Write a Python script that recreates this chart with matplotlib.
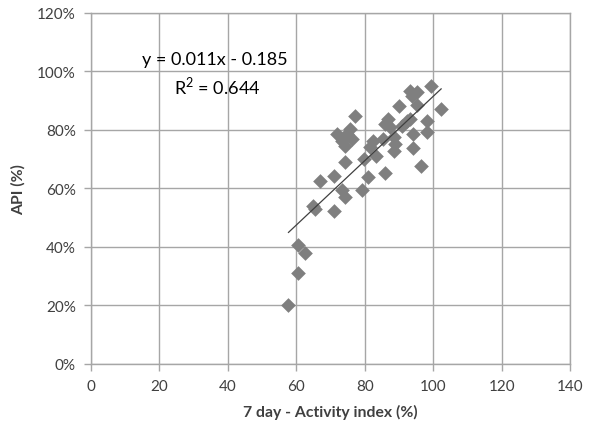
import matplotlib

matplotlib.use("Agg")
import matplotlib.pyplot as plt
from matplotlib.ticker import PercentFormatter

# 7 day activity index (%) vs API (fraction)
activity = [57.7, 60.5, 60.5, 62.5, 64.8, 65.5, 66.9, 71.1, 71.1, 71.8,
            73.3, 74.2, 74.2, 73.3, 74.2, 74.7, 75.7, 76.2, 77.2, 79.1,
            79.9, 81.0, 81.5, 82.5, 83.3, 85.4, 85.9, 85.9, 86.9, 87.5,
            88.4, 88.9, 88.4, 90.1, 90.8, 92.3, 93.2, 93.2, 95.2, 93.7,
            95.2, 94.2, 94.0, 96.5, 98.1, 98.1, 99.4, 102.3]
api = [0.202, 0.311, 0.407, 0.378, 0.541, 0.530, 0.627, 0.524, 0.644, 0.786,
       0.593, 0.570, 0.692, 0.763, 0.746, 0.786, 0.803, 0.769, 0.849, 0.595,
       0.701, 0.638, 0.741, 0.763, 0.712, 0.769, 0.653, 0.821, 0.838, 0.809,
       0.775, 0.752, 0.729, 0.881, 0.815, 0.832, 0.838, 0.934, 0.931, 0.917,
       0.885, 0.786, 0.737, 0.676, 0.832, 0.792, 0.949, 0.872]

slope, intercept, r2 = 0.011, -0.185, 0.644

grey = "#a6a6a6"
plt.rcParams["font.family"] = ["Lato", "DejaVu Sans"]
plt.rcParams["mathtext.fontset"] = "custom"
plt.rcParams["mathtext.rm"] = "Lato"

fig = plt.figure(figsize=(5.89, 4.35), dpi=100)
ax = fig.add_axes([0.1545, 0.161, 0.8135, 0.807])

ax.scatter(activity, api, marker="D", s=56, color="#7f7f7f", linewidths=0, zorder=3)

xs = [min(activity), max(activity)]
ax.plot(xs, [slope * x + intercept for x in xs], color="#404040", lw=0.9, zorder=4)

# equation label, as the spreadsheet trendline shows it
ax.text(36.2, 1.043, f"y = {slope}x - {abs(intercept)}", ha="center", va="center",
        fontsize=13)
ax.text(36.8, 0.954, f"R$^2$ = {r2}", ha="center", va="center", fontsize=13)

ax.set_xlim(0, 140)
ax.set_ylim(0, 1.2)
ax.set_xticks(range(0, 141, 20))
ax.set_yticks([i / 10 for i in range(0, 13, 2)])
ax.yaxis.set_major_formatter(PercentFormatter(1.0, decimals=0))
ax.grid(True, color=grey, lw=1)
ax.set_axisbelow(True)
for sp in ax.spines.values():
    sp.set_color(grey)
    sp.set_linewidth(1)
ax.tick_params(colors=grey, labelcolor="#404040", labelsize=11, length=5, width=1, pad=6)

ax.set_xlabel("7 day - Activity index (%)", fontsize=11.3, fontweight="bold", color="#404040", labelpad=8)
ax.set_ylabel("API (%)", fontsize=11.3, fontweight="bold", color="#404040", labelpad=8)

fig.savefig("out.png", dpi=100)
